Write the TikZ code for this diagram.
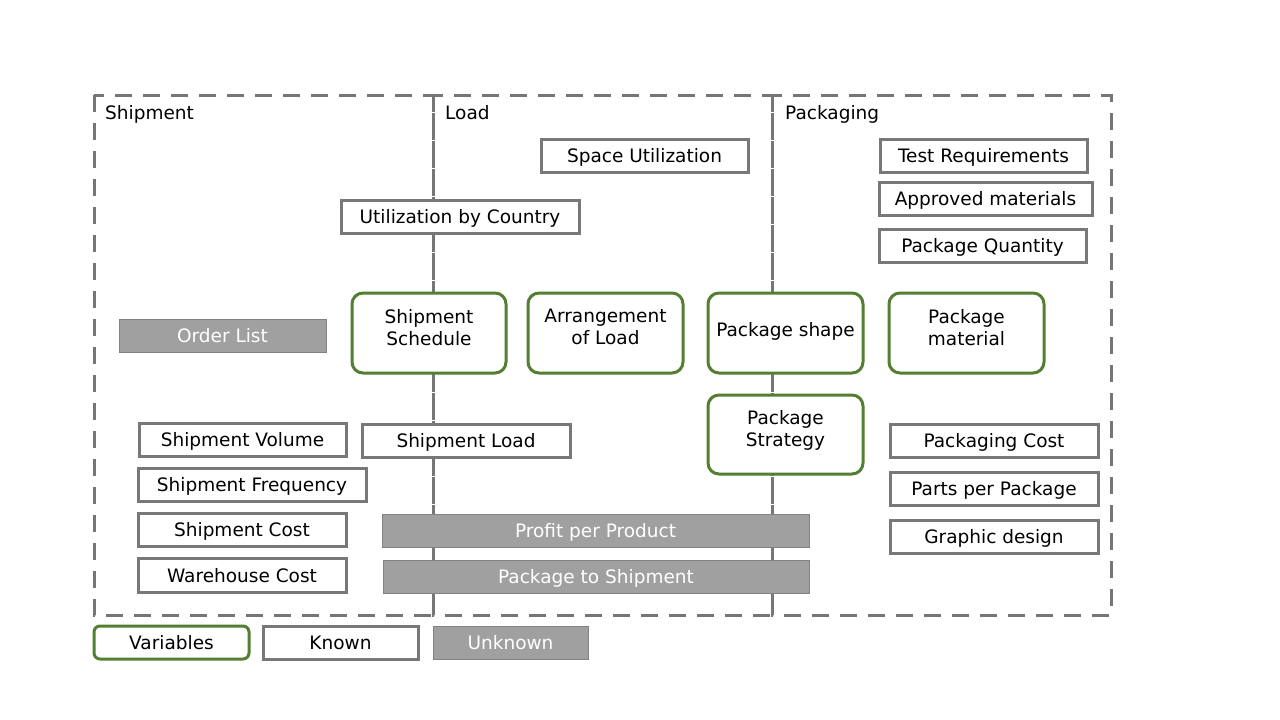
\documentclass[tikz,border=0pt]{standalone}
\usepackage{fontspec}
\setmainfont{DejaVu Sans}
\definecolor{vgreen}{RGB}{84,126,50}
\definecolor{kgrey}{RGB}{120,120,120}
\definecolor{ufill}{RGB}{160,160,160}
\definecolor{uline}{RGB}{130,130,130}
\definecolor{panelc}{RGB}{118,118,118}
\begin{document}
\begin{tikzpicture}[x=1pt,y=-1pt,
  every node/.style={font=\fontsize{18.5}{22}\selectfont, inner sep=0pt, align=center},
  panel/.style={draw=panelc, line width=3pt, dash pattern=on 17pt off 11pt},
  oneline/.style={text height=15.5pt, text depth=1.5pt},
  knownbox/.style={draw=kgrey, line width=3pt, fill=white, text=black, oneline},
  unknownbox/.style={draw=uline, line width=1pt, fill=ufill, text=white, oneline},
  varbox/.style={draw=vgreen, line width=3pt, fill=white, rounded corners=11pt, text=black},
  ptitle/.style={anchor=west}]
\useasboundingbox[fill=white] (0,0) rectangle (1280,720);
% panels
\draw[panel] (94,95) rectangle (433,615);
\draw[panel] (433,95) rectangle (772,615);
\draw[panel] (772,95) rectangle (1111,615);
\node[ptitle] (tship) at (105,114) {Shipment};
\node[ptitle] (tload) at (445,112.5) {Load};
\node[ptitle] (tpack) at (785,114) {Packaging};
% known boxes
\node[knownbox, minimum width=207pt, minimum height=33pt] (spaceutil) at (644.5,155.5) {Space Utilization};
\node[knownbox, minimum width=238pt, minimum height=33pt] (utilcountry) at (460,216.5) {Utilization by Country};
\node[knownbox, minimum width=207pt, minimum height=33pt] (testreq) at (983.5,155.5) {Test Requirements};
\node[knownbox, minimum width=213pt, minimum height=33pt] (approved) at (985.5,198.5) {Approved materials};
\node[knownbox, minimum width=207pt, minimum height=33pt] (pkgqty) at (982.5,245.5) {Package Quantity};
\node[knownbox, minimum width=207pt, minimum height=33pt] (shipvol) at (242.5,439.5) {Shipment Volume};
\node[knownbox, minimum width=208pt, minimum height=33pt] (shipload) at (466,440.5) {Shipment Load};
\node[knownbox, minimum width=208pt, minimum height=33pt] (pkgcost) at (994,440.5) {Packaging Cost};
\node[knownbox, minimum width=228pt, minimum height=33pt] (shipfreq) at (252,484.5) {Shipment Frequency};
\node[knownbox, minimum width=208pt, minimum height=33pt] (partsper) at (994,488.5) {Parts per Package};
\node[knownbox, minimum width=208pt, minimum height=33pt] (shipcost) at (242,529.5) {Shipment Cost};
\node[knownbox, minimum width=208pt, minimum height=33pt] (graphic) at (994,536.5) {Graphic design};
\node[knownbox, minimum width=208pt, minimum height=34pt] (warecost) at (242,575) {Warehouse Cost};
% unknown boxes
\node[unknownbox, minimum width=207pt, minimum height=33pt] (orderlist) at (222.5,335.5) {Order List};
\node[unknownbox, minimum width=427pt, minimum height=33pt] (profit) at (595.5,530.5) {Profit per Product};
\node[unknownbox, minimum width=426pt, minimum height=33pt] (pkg2ship) at (596,576.5) {Package to Shipment};
% variables
\node[varbox, text depth=12pt, minimum width=154pt, minimum height=80pt] (schedule) at (429,333) {Shipment\\Schedule};
\node[varbox, text depth=12pt, minimum width=155pt, minimum height=80pt] (arrange) at (605.5,333) {Arrangement\\of Load};
\node[varbox, text depth=6.5pt, minimum width=155pt, minimum height=80pt] (pshape) at (785.5,333) {Package shape};
\node[varbox, text depth=12pt, minimum width=155pt, minimum height=80pt] (pmaterial) at (966.5,333) {Package\\material};
\node[varbox, text depth=12.5pt, minimum width=155pt, minimum height=79pt] (pstrategy) at (785.5,434.5) {Package\\Strategy};
% legend
\node[varbox, oneline, rounded corners=6pt, minimum width=155pt, minimum height=33pt] (legvar) at (171.5,642.5) {Variables};
\node[knownbox, minimum width=155pt, minimum height=33pt] (legknown) at (340.5,642.5) {Known};
\node[unknownbox, minimum width=155pt, minimum height=33pt] (legunknown) at (510.5,642.5) {Unknown};
\end{tikzpicture}
\end{document}
